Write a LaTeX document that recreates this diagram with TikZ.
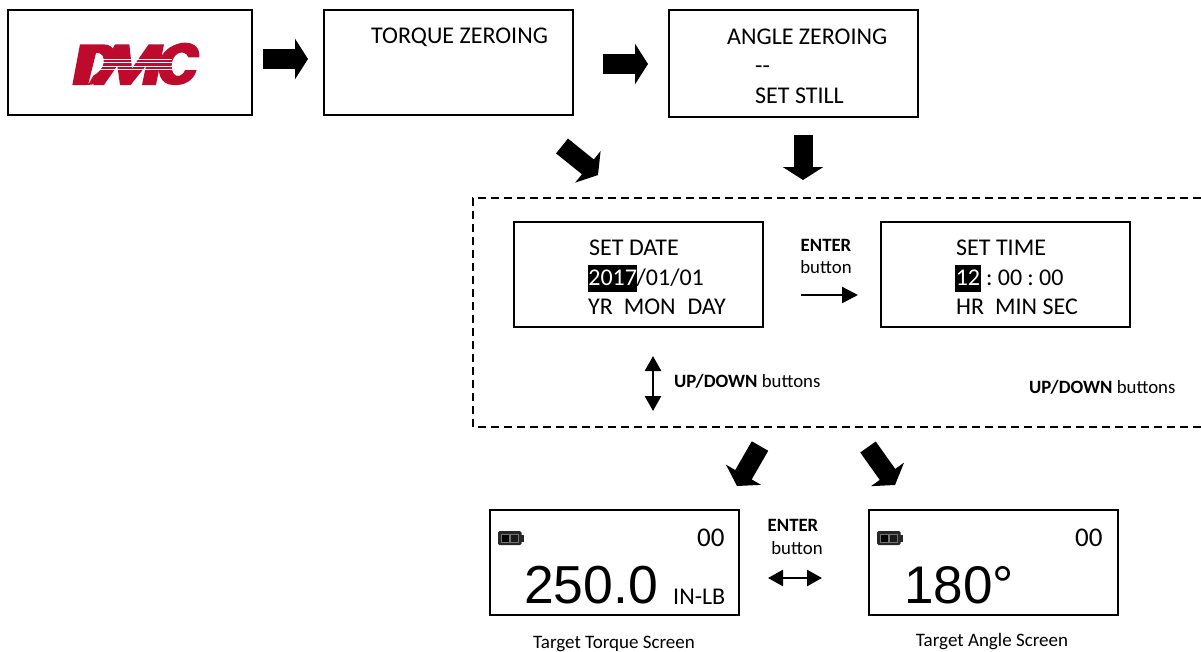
\documentclass[tikz,border=0pt]{standalone}
\usepackage{fontspec}
\setmainfont{Carlito}
\newfontfamily\arialfont{Liberation Sans}
\usetikzlibrary{arrows.meta}
\definecolor{dmcred}{RGB}{190,10,45}
\tikzset{
  x=1pt,y=-1pt,
  screen/.style={draw=black,line width=1.8pt,minimum width=249pt,minimum height=105pt,inner sep=0pt,outer sep=0pt,anchor=north west},
  lbl/.style={inner sep=0pt,anchor=west,font=\fontsize{24}{26}\selectfont},
  small/.style={inner sep=0pt,font=\fontsize{18.8}{20}\selectfont},
  fatright/.style={line width=20pt,-{Triangle[width=40pt,length=13pt]}},
  fatdown/.style={line width=19pt,-{Triangle[width=40pt,length=13pt]}},
  thinarrow/.style={line width=2.4pt,-{Triangle[width=16pt,length=16pt]}},
  dblarrow/.style={line width=2.6pt,{Triangle[width=16pt,length=15pt]}-{Triangle[width=16pt,length=15pt]}},
}
\begin{document}
\begin{tikzpicture}
\useasboundingbox (0,0) rectangle (1201,651);
\fill[white] (0,0) rectangle (1201,651);
% top row
\node[screen,minimum width=244pt] (logo) at (8,10) {};
\node[screen] (torque) at (324,10) {};
\node[screen,minimum height=107pt] (angle) at (669,10) {};
% DMC logo
\begin{scope}[shift={(60,35)},scale=1/3]
  \fill[dmcred,even odd rule]
    (60,28) -- (130,28) .. controls (165,28) and (172,60) .. (162,88)
    .. controls (150,125) and (120,150) .. (80,150) -- (37,150) -- cycle
    (108,54) -- (84,150) -- (100,122) .. controls (125,108) and (138,85) .. (128,62) .. controls (124,54) and (115,54) .. (108,54) -- cycle;
  \fill[dmcred]
    (165,28) -- (208,28) -- (216,100) -- (266,28) -- (312,28) -- (288,150) -- (246,150) -- (258,92)
    -- (212,150) -- (180,150) -- (172,92) -- (132,150) -- (100,150) -- cycle;
  \fill[dmcred]
    (418,67) -- (385,67) .. controls (380,52) and (365,50) .. (355,55)
    .. controls (335,65) and (330,95) .. (340,115) .. controls (348,128) and (368,125) .. (375,105)
    -- (410,105) .. controls (400,140) and (370,152) .. (340,150)
    .. controls (300,150) and (290,110) .. (300,75) .. controls (310,40) and (350,23) .. (375,23)
    .. controls (405,23) and (420,40) .. (418,67) -- cycle;
  \foreach \yy in {73,83,93,103}{
    \draw[white,line width=1pt] (118,\yy) -- (335,\yy);
  }
\end{scope}
\node[lbl] (t1) at (371,37) {TORQUE ZEROING};
\node[lbl] (a1) at (727,37) {ANGLE ZEROING};
\node[lbl] (a2) at (755,70) {-{}-};
\node[lbl] (a3) at (755,96) {SET STILL};
% fat arrows
\coordinate (f1a) at (263,59); \coordinate (f1b) at (308,59);
\coordinate (f2a) at (603,64); \coordinate (f2b) at (648,64);
\coordinate (f3a) at (562,146); \coordinate (f3b) at (598,175);
\coordinate (f4a) at (803,135); \coordinate (f4b) at (803,180);
\coordinate (f5a) at (760,446); \coordinate (f5b) at (737,486);
\coordinate (f6a) at (868,447); \coordinate (f6b) at (895,485);
\draw[fatright] (f1a) -- (f1b);
\draw[fatright] (f2a) -- (f2b);
\draw[fatdown] (f3a) -- (f3b);
\draw[fatdown] (f4a) -- (f4b);
\draw[fatdown] (f5a) -- (f5b);
\draw[fatdown] (f6a) -- (f6b);
% dashed frame
\draw[line width=1.5pt,dash pattern=on 8pt off 5pt] (1201,198) -- (473,198) -- (473,427) -- (1201,427);
% date and time
\node[screen] (date) at (514,222) {};
\node[screen] (time) at (881,222) {};
\node[lbl] (d1) at (589,248) {SET DATE};
\node[lbl,fill=black,text=white,inner xsep=0.2pt,minimum height=27pt] (d2) at (588,278) {2017};
\node[lbl,anchor=west] (d3) at ([xshift=-1pt]d2.east) {/01/01};
\node[lbl] (d4) at (588,307) {YR\ \ MON\ \ \hspace{1pt}DAY};
\node[lbl] (c1) at (956,248) {SET TIME};
\node[lbl,fill=black,text=white,inner xsep=0.6pt,minimum height=27pt] (c2) at (955,278) {12};
\node[lbl,anchor=west] (c3) at ([xshift=5pt]c2.east) {:\hspace{5.3pt}00\hspace{5.3pt}:\hspace{5.3pt}00};
\node[lbl] (c4) at (956,307) {HR\ \ MIN SEC};
\node[small] (e1) at (826,245) {\textbf{ENTER}};
\node[small] (e2) at (826,267) {button};
\coordinate (ea) at (801,295); \coordinate (eb) at (858,295);
\draw[thinarrow] (ea) -- (eb);
\coordinate (ua) at (653,356); \coordinate (ub) at (653,411);
\draw[dblarrow] (ua) -- (ub);
\node[small,anchor=west] (u1) at (674,381) {\textbf{UP/DOWN} buttons};
\node[small,anchor=west] (u2) at (1029,387) {\textbf{UP/DOWN} buttons};
% bottom screens
\node[screen] (tq) at (490,510) {};
\node[screen] (ag) at (869,510) {};
\foreach \x in {498,877}{
  \fill[black!85,rounded corners=1.5pt] (\x,531) rectangle ++(23.5,14);
  \fill[black!85] (\x+23,534.5) rectangle ++(2.5,7);
  \fill[black!55] (\x+2.5,533.5) rectangle ++(18.5,9);
  \fill[black] (\x+3.5,534.5) rectangle ++(7.5,7);
  \fill[black!90] (\x+12.5,534.5) rectangle ++(7.5,7);
}
\node[inner sep=0pt,anchor=west,font=\fontsize{27}{29}\selectfont] (n1) at (697,538) {00};
\node[inner sep=0pt,anchor=west,font=\fontsize{27}{29}\selectfont] (n2) at (1075,538) {00};
\node[inner sep=0pt,anchor=west,font=\fontsize{53.5}{55}\arialfont] (v1) at (524,585) {250.0};
\node[inner sep=0pt,anchor=west,font=\fontsize{24}{26}\selectfont] (v2) at (673,597) {IN-LB};
\node[inner sep=0pt,anchor=west,font=\fontsize{53}{55}\arialfont] (v3) at (904,585) {180°};
\node[small] (g1) at (793,525) {\textbf{ENTER}};
\node[small] (g2) at (797,548) {button};
\coordinate (ga) at (768,578); \coordinate (gb) at (822,578);
\draw[dblarrow] (ga) -- (gb);
\node[inner sep=0pt,font=\fontsize{19}{21}\selectfont] (l1) at (614,644) {Target Torque Screen};
\node[inner sep=0pt,font=\fontsize{19}{21}\selectfont] (l2) at (992,642) {Target Angle Screen};
\end{tikzpicture}
\end{document}
